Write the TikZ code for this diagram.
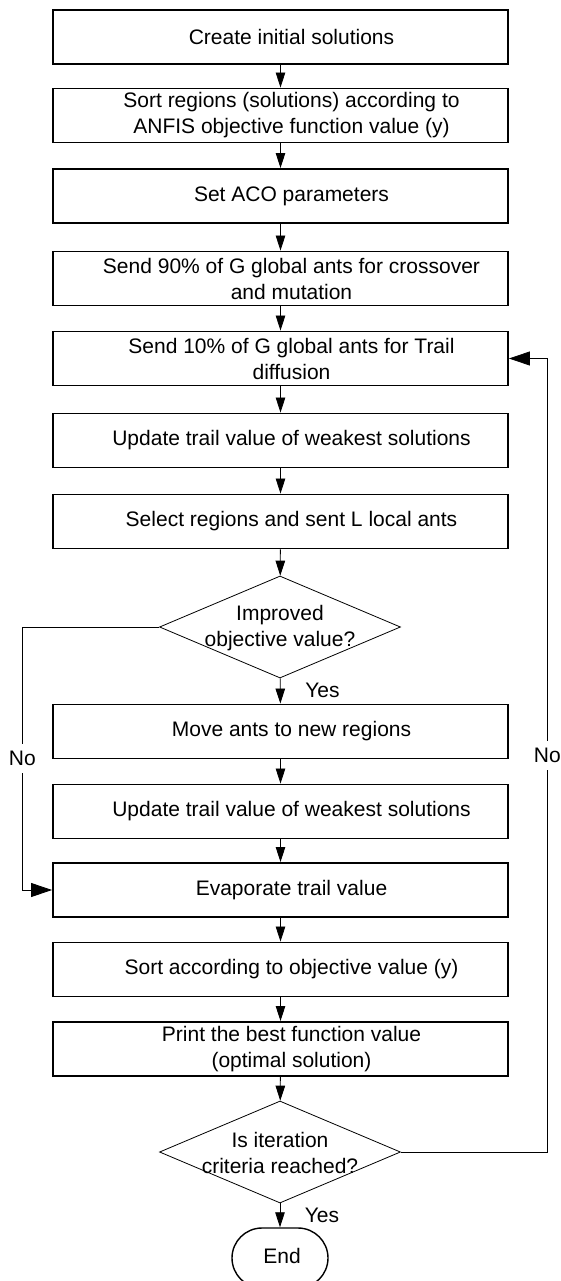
\documentclass[tikz,border=0pt]{standalone}
\usepackage{fontspec}
\setmainfont{Liberation Sans}
\usetikzlibrary{arrows.meta,shapes.geometric,shapes.misc}
\begin{document}
\begin{tikzpicture}[x=1pt,y=-1pt,
  font=\fontsize{21}{26}\selectfont,
  box/.style={draw,line width=1.9pt,minimum width=455pt,minimum height=54pt,inner sep=0pt},
  txt/.style={xshift=11pt,align=center,inner sep=0pt},
  dec/.style={draw,line width=0.8pt,diamond,minimum width=241pt,minimum height=102pt,inner sep=0pt},
  dtxt/.style={align=center,inner sep=0pt},
  term/.style={draw,line width=1.4pt,rounded rectangle,minimum width=96pt,minimum height=60pt,inner sep=0pt},
  vflow/.style={line width=0.8pt,-{Triangle[length=15pt,width=9.5pt]}},
  hflow/.style={line width=0.8pt,-{Triangle[length=21pt,width=14pt]}},
  lbl/.style={inner sep=0pt},
  nolbl/.style={fill=white,inner xsep=2pt,inner ysep=7pt}]
\useasboundingbox (0,0) rectangle (560,1281);

\node[box,label={[txt]center:Create initial solutions}] (b1) at (280.5,36.7) {};
\node[box,label={[txt]center:Sort regions (solutions) according to\\ANFIS objective function value (y)}] (b2) at (280.5,115.5) {};
\node[box,label={[txt]center:Set ACO parameters}] (b3) at (280.5,196) {};
\node[box,label={[txt]center:Send 90\% of G global ants for crossover\\and mutation}] (b4) at (280.5,278.5) {};
\node[box,label={[txt]center:Send 10\% of G global ants for Trail\\diffusion}] (b5) at (280.5,358.5) {};
\node[box,label={[txt]center:Update trail value of weakest solutions}] (b6) at (280.5,440.5) {};
\node[box,label={[txt]center:Select regions and sent L local ants}] (b7) at (280.5,521.5) {};
\node[dec] (d1) at (280,627) {};
\node[dtxt] (d1t) at (280,628) {Improved\\objective value?};
\node[box,label={[txt]center:Move ants to new regions}] (b8) at (280.5,731.5) {};
\node[box,label={[txt]center:Update trail value of weakest solutions}] (b9) at (280.5,811.5) {};
\node[box,label={[txt]center:Evaporate trail value}] (b10) at (280.5,890) {};
\node[box,label={[txt]center:Sort according to objective value (y)}] (b11) at (280.5,969.5) {};
\node[box,label={[txt]center:Print the best function value\\(optimal solution)}] (b12) at (280.5,1049) {};
\node[dec] (d2) at (280,1152) {};
\node[dtxt] (d2t) at (280,1153) {Is iteration\\criteria reached?};
\node[term] (end) at (280,1258) {};
\node[lbl] (endt) at (282,1256) {End};

\node[lbl] (yes1) at (322.5,690) {Yes};
\node[lbl] (yes2) at (322,1215.5) {Yes};

\coordinate (l1) at (22.3,627);
\coordinate (l2) at (22.3,890);
\coordinate (r1) at (547.3,1152);
\coordinate (r2) at (547.3,358.5);

\draw[vflow] (b1) -- (b2);
\draw[vflow] (b2) -- (b3);
\draw[vflow] (b3) -- (b4);
\draw[vflow] (b4) -- (b5);
\draw[vflow] (b5) -- (b6);
\draw[vflow] (b6) -- (b7);
\draw[vflow] (b7) -- (d1);
\draw[vflow] (d1) -- (b8);
\draw[vflow] (b8) -- (b9);
\draw[vflow] (b9) -- (b10);
\draw[vflow] (b10) -- (b11);
\draw[vflow] (b11) -- (b12);
\draw[vflow] (b12) -- (d2);
\draw[vflow] (d2) -- (end);
\draw[hflow] (d1.west) -- (l1) -- node[nolbl] (no1) {No} (l2) -- (b10.west);
\draw[hflow] (d2.east) -- (r1) -- node[nolbl] (no2) {No} (r2) -- (b5.east);
\end{tikzpicture}
\end{document}
